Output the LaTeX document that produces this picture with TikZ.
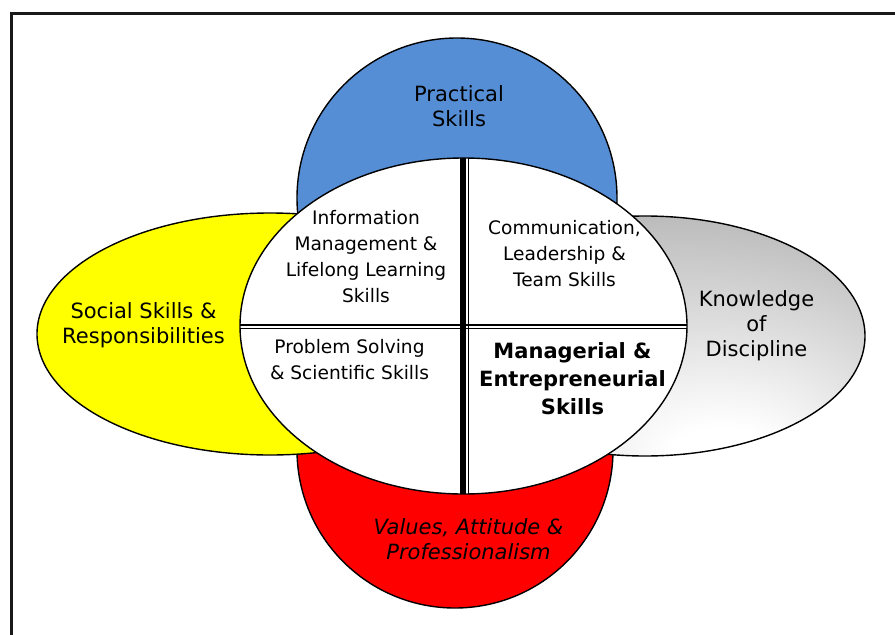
\documentclass[tikz,border=0pt]{standalone}
\usepackage{fontspec}
\setmainfont{DejaVu Sans}
\usetikzlibrary{shapes.geometric}
\definecolor{skillblue}{RGB}{85,142,213}
\definecolor{skillyellow}{RGB}{255,255,0}
\definecolor{skillred}{RGB}{255,0,0}
% soft grey fill for the discipline lobe, brightest towards its lower middle
\pgfdeclareradialshading{kdshade}{\pgfpoint{10bp}{-28bp}}{color(0bp)=(white); color(6bp)=(white); color(56bp)=(black!45)}
\begin{document}
\begin{tikzpicture}[x=1pt,y=-1pt,
  outline/.style={draw=black, line width=1.4pt},
  outertext/.style={font=\fontsize{21}{25}\selectfont, align=center, inner sep=0pt},
  innertext/.style={font=\fontsize{18.6}{26}\selectfont, align=center, inner sep=0pt},
  boldtext/.style={font=\fontsize{21}{28}\selectfont\bfseries, align=center, inner sep=0pt}]
\useasboundingbox (0,0) rectangle (895,635);
\clip (0,0) rectangle (895,635);

% frame
\draw[line width=2.2pt, draw=black!90] (11.5,13.5) rectangle (910,650);

% outer lobes
\path[outline, fill=skillblue] (457,198) ellipse [x radius=160, y radius=160];
\path[outline, fill=skillred] (455,450) ellipse [x radius=158, y radius=158];
\path[outline, fill=skillyellow] (270,334) ellipse [x radius=233, y radius=121];
\path[outline, shade, shading=kdshade] (645,336) ellipse [x radius=220, y radius=120];

% central ellipse
\node[ellipse, fill=white, minimum width=447pt, minimum height=336pt, inner sep=0pt] (core) at (463.5,326) {};
\begin{scope}
  \clip (core.center) ellipse [x radius=223.5, y radius=168];
  \draw[line width=5.5pt] ([xshift=-0.7pt]core.north) -- ([xshift=-0.7pt,yshift=-10pt]core.south);
  \draw[line width=1.6pt] ([xshift=5pt,yshift=10pt]core.north) -- ([xshift=5pt,yshift=-10pt]core.south);
  \draw[line width=1.7pt] ([xshift=-10pt,yshift=1pt]core.west) -- ([xshift=10pt,yshift=1pt]core.east);
  \draw[line width=1.7pt] ([xshift=-10pt,yshift=-2.6pt]core.west) -- ([xshift=10pt,yshift=-2.6pt]core.east);
\end{scope}
\node[ellipse, outline, minimum width=447pt, minimum height=336pt, inner sep=0pt] (coreline) at (core.center) {};

% lobe labels
\node[outertext] (practical) at (459,106.2) {Practical\\Skills};
\node[outertext] (social) at (143.5,325.3) {Social Skills \&\\Responsibilities};
\node[outertext] (knowledge) at (756.5,325.5) {Knowledge\\of\\Discipline};
\node[outertext, font=\fontsize{21}{25}\selectfont\itshape] (values) at (468.5,539.2) {Values, Attitude \&\\Professionalism};

% quadrant labels
\node[innertext] (info) at (366,257) {Information\\Management \&\\Lifelong Learning\\Skills};
\node[innertext] (comm) at (564.5,254) {Communication,\\Leadership \&\\Team Skills};
\node[innertext] (problem) at (349.5,360) {Problem Solving\\\& Scientific Skills};
\node[boldtext] (manage) at (572.5,379) {Managerial \&\\Entrepreneurial\\Skills};
\end{tikzpicture}
\end{document}
